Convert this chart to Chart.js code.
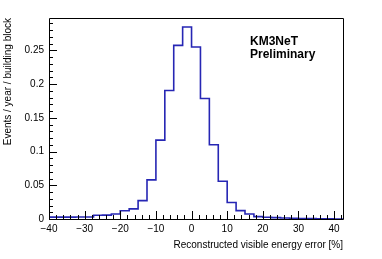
<!DOCTYPE html>
<html>
<head>
<meta charset="utf-8">
<script src="https://cdn.jsdelivr.net/npm/chart.js@4.4.1/dist/chart.umd.min.js"></script>
<style>
  html, body { margin: 0; padding: 0; background: #fff; }
  #wrap { width: 382px; height: 259px; position: relative; }
</style>
</head>
<body>
<div id="wrap"><canvas id="chartContainer"></canvas></div>
<script>
// bin edges of the histogram (2.5 % wide bins)
const binEdges = [-40, -37.5, -35, -32.5, -30, -27.5, -25, -22.5, -20, -17.5, -15, -12.5, -10, -7.5, -5, -2.5,
  0, 2.5, 5, 7.5, 10, 12.5, 15, 17.5, 20, 22.5, 25, 27.5, 30, 32.5, 35, 37.5, 40, 42.5];
// events / year / building block in each bin
const binValues = [0.0028, 0.0028, 0.0028, 0.0029, 0.0030, 0.0055, 0.0058, 0.0074, 0.0122, 0.0150, 0.0272,
  0.058, 0.117, 0.1905, 0.2574, 0.2847, 0.255, 0.1786, 0.110, 0.056, 0.0245, 0.0124, 0.0074, 0.0035,
  0.0025, 0.0020, 0.0015, 0.0010, 0.0007, 0.0005, 0.0003, 0.0002, 0.0001];
const xTickValues = [-40, -30, -20, -10, 0, 10, 20, 30, 40];
const yTickValues = [0, 0.05, 0.1, 0.15, 0.2, 0.25];

const FONT = "'Liberation Sans', Arial, Helvetica, sans-serif";

// ROOT style: frame + ticks drawn inward, label text
const rootStyle = {
  id: "rootStyle",
  afterDraw(chart) {
    const { ctx, chartArea: a, scales } = chart;
    const x = scales.x, y = scales.y;
    ctx.save();
    ctx.strokeStyle = "#000";
    ctx.lineWidth = 1;
    ctx.beginPath();
    ctx.rect(Math.round(a.left) + 0.5, Math.round(a.top) + 0.5,
      Math.round(a.right - a.left), Math.round(a.bottom - a.top));
    ctx.stroke();

    ctx.beginPath();
    // y ticks
    for (let v = 0; v <= y.max + 1e-9; v += 0.01) {
      const major = Math.abs(v / 0.05 - Math.round(v / 0.05)) < 1e-6;
      const py = Math.round(y.getPixelForValue(v)) + 0.5;
      ctx.moveTo(a.left, py);
      ctx.lineTo(a.left + (major ? 8 : 4), py);
    }
    // x ticks
    for (let v = -40; v <= x.max + 1e-9; v += 2) {
      const major = v % 10 === 0;
      const px = Math.round(x.getPixelForValue(v)) + 0.5;
      ctx.moveTo(px, a.bottom);
      ctx.lineTo(px, a.bottom - (major ? 8 : 4));
    }
    ctx.stroke();

    ctx.fillStyle = "#000";
    ctx.font = "bold 12px " + FONT;
    ctx.textBaseline = "alphabetic";
    ctx.textAlign = "left";
    ctx.fillText("KM3NeT", 250, 45);
    ctx.fillText("Preliminary", 250, 58);
    ctx.restore();
  }
};

document.addEventListener("DOMContentLoaded", () => {
  const points = binEdges.map((e, i) => ({ x: e, y: binValues[Math.min(i, binValues.length - 1)] }));
  const ctx = document.getElementById("chartContainer").getContext("2d");
  new Chart(ctx, {
    type: "line",
    data: {
      datasets: [{
        data: points,
        stepped: "before",
        borderColor: "#2626b4",
        borderWidth: 1.6,
        pointRadius: 0,
        fill: false
      }]
    },
    options: {
      responsive: true,
      maintainAspectRatio: false,
      animation: false,
      layout: { padding: { left: 0, top: 18, right: 39, bottom: 0 } },
      plugins: { legend: { display: false }, tooltip: { enabled: false } },
      scales: {
        x: {
          type: "linear",
          min: -40,
          max: 42.5,
          afterFit: s => { s.height = 40; },
          afterBuildTicks: s => { s.ticks = xTickValues.map(v => ({ value: v })); },
          grid: { display: false, drawTicks: false },
          border: { display: false },
          ticks: {
            padding: 4,
            color: "#000",
            font: { family: FONT, size: 10 },
            maxRotation: 0,
            callback: v => String(v).replace("-", "\u2212")
          },
          title: {
            display: true,
            text: "Reconstructed visible energy error [%]",
            align: "end",
            color: "#000",
            font: { family: FONT, size: 10 },
            padding: { top: 0, bottom: 8 }
          }
        },
        y: {
          min: 0,
          max: 0.298,
          afterFit: s => { s.width = 49; },
          afterBuildTicks: s => { s.ticks = yTickValues.map(v => ({ value: v })); },
          grid: { display: false, drawTicks: false },
          border: { display: false },
          ticks: {
            padding: 5,
            color: "#000",
            font: { family: FONT, size: 10 },
            callback: v => String(v)
          },
          title: {
            display: true,
            text: "Events / year / building block",
            align: "end",
            color: "#000",
            font: { family: FONT, size: 10 },
            padding: { top: 2, bottom: 0 }
          }
        }
      }
    },
    plugins: [rootStyle]
  });
});
</script>
</body>
</html>
